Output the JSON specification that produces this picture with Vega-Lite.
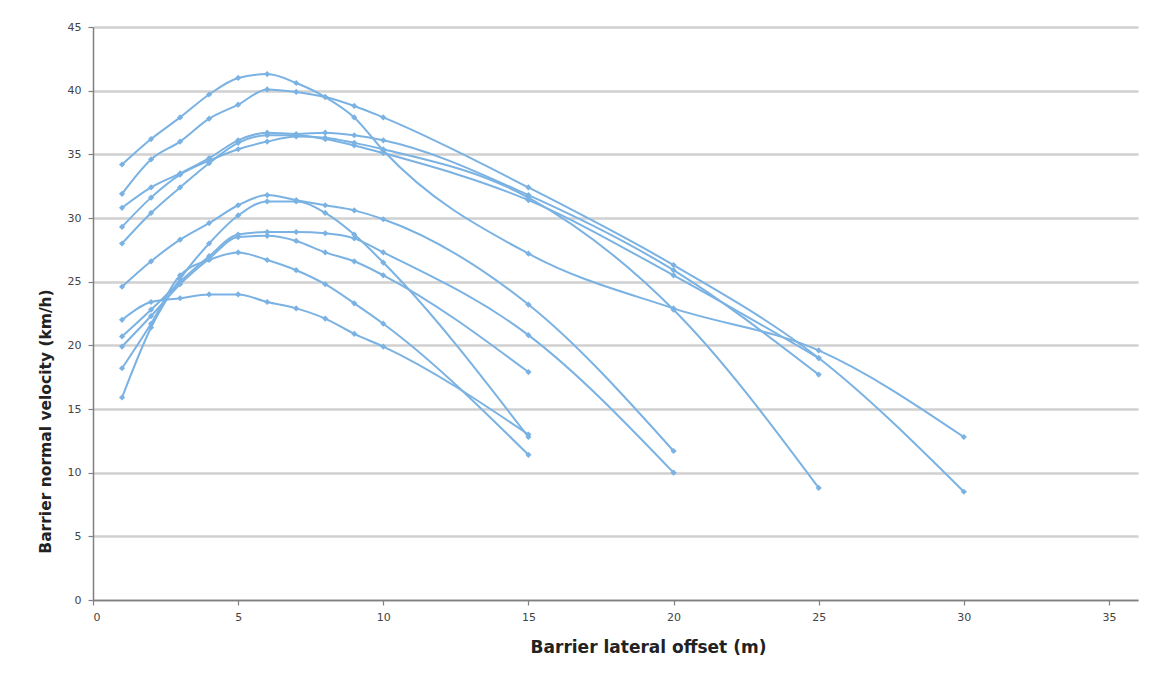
{
  "$schema": "https://vega.github.io/schema/vega-lite/v6.json",
  "width": 1045,
  "height": 573,
  "autosize": {"type": "none"},
  "padding": {"left": 93, "top": 27, "right": 14, "bottom": 73},
  "background": "white",
  "config": {
    "view": {"stroke": null},
    "font": "DejaVu Sans",
    "axis": {
      "domainColor": "#808080",
      "domainWidth": 1.5,
      "tickColor": "#808080",
      "tickWidth": 1.2,
      "tickSize": 5,
      "labelFont": "DejaVu Sans",
      "labelFontSize": 11,
      "labelColor": "#444444",
      "titleFont": "DejaVu Sans",
      "titleFontWeight": "bold",
      "titleColor": "#222222",
      "gridColor": "#d0d0d0",
      "gridWidth": 2.5
    }
  },
  "data": {
    "values": [
      {"s": "A", "x": 1, "y": 34.2}, {"s": "A", "x": 2, "y": 36.2}, {"s": "A", "x": 3, "y": 37.9}, {"s": "A", "x": 4, "y": 39.7}, {"s": "A", "x": 5, "y": 41.0}, {"s": "A", "x": 6, "y": 41.3}, {"s": "A", "x": 7, "y": 40.6}, {"s": "A", "x": 8, "y": 39.5}, {"s": "A", "x": 9, "y": 37.9}, {"s": "A", "x": 10, "y": 35.3}, {"s": "A", "x": 15, "y": 27.2}, {"s": "A", "x": 20, "y": 22.9}, {"s": "A", "x": 25, "y": 19.6}, {"s": "A", "x": 30, "y": 12.8},
      {"s": "B", "x": 1, "y": 31.9}, {"s": "B", "x": 2, "y": 34.6}, {"s": "B", "x": 3, "y": 36.0}, {"s": "B", "x": 4, "y": 37.8}, {"s": "B", "x": 5, "y": 38.9}, {"s": "B", "x": 6, "y": 40.1}, {"s": "B", "x": 7, "y": 39.9}, {"s": "B", "x": 8, "y": 39.5}, {"s": "B", "x": 9, "y": 38.8}, {"s": "B", "x": 10, "y": 37.9}, {"s": "B", "x": 15, "y": 32.4}, {"s": "B", "x": 20, "y": 26.3}, {"s": "B", "x": 25, "y": 19.0}, {"s": "B", "x": 30, "y": 8.5},
      {"s": "C", "x": 1, "y": 30.8}, {"s": "C", "x": 2, "y": 32.4}, {"s": "C", "x": 3, "y": 33.5}, {"s": "C", "x": 4, "y": 34.7}, {"s": "C", "x": 5, "y": 36.1}, {"s": "C", "x": 6, "y": 36.7}, {"s": "C", "x": 7, "y": 36.6}, {"s": "C", "x": 8, "y": 36.7}, {"s": "C", "x": 9, "y": 36.5}, {"s": "C", "x": 10, "y": 36.1}, {"s": "C", "x": 15, "y": 31.8}, {"s": "C", "x": 20, "y": 25.9}, {"s": "C", "x": 25, "y": 17.7},
      {"s": "D", "x": 1, "y": 29.3}, {"s": "D", "x": 2, "y": 31.6}, {"s": "D", "x": 3, "y": 33.4}, {"s": "D", "x": 4, "y": 34.5}, {"s": "D", "x": 5, "y": 35.4}, {"s": "D", "x": 6, "y": 36.0}, {"s": "D", "x": 7, "y": 36.4}, {"s": "D", "x": 8, "y": 36.3}, {"s": "D", "x": 9, "y": 35.9}, {"s": "D", "x": 10, "y": 35.4}, {"s": "D", "x": 15, "y": 31.6}, {"s": "D", "x": 20, "y": 22.8}, {"s": "D", "x": 25, "y": 8.8},
      {"s": "E", "x": 1, "y": 28.0}, {"s": "E", "x": 2, "y": 30.4}, {"s": "E", "x": 3, "y": 32.4}, {"s": "E", "x": 4, "y": 34.3}, {"s": "E", "x": 5, "y": 35.9}, {"s": "E", "x": 6, "y": 36.5}, {"s": "E", "x": 7, "y": 36.5}, {"s": "E", "x": 8, "y": 36.2}, {"s": "E", "x": 9, "y": 35.7}, {"s": "E", "x": 10, "y": 35.1}, {"s": "E", "x": 15, "y": 31.4}, {"s": "E", "x": 20, "y": 25.5}, {"s": "E", "x": 25, "y": 19.0},
      {"s": "L1", "x": 1, "y": 24.6}, {"s": "L1", "x": 2, "y": 26.6}, {"s": "L1", "x": 3, "y": 28.3}, {"s": "L1", "x": 4, "y": 29.6}, {"s": "L1", "x": 5, "y": 31.0}, {"s": "L1", "x": 6, "y": 31.8}, {"s": "L1", "x": 7, "y": 31.4}, {"s": "L1", "x": 8, "y": 31.0}, {"s": "L1", "x": 9, "y": 30.6}, {"s": "L1", "x": 10, "y": 29.9}, {"s": "L1", "x": 15, "y": 23.2}, {"s": "L1", "x": 20, "y": 11.7},
      {"s": "L2", "x": 1, "y": 20.7}, {"s": "L2", "x": 2, "y": 22.8}, {"s": "L2", "x": 3, "y": 25.0}, {"s": "L2", "x": 4, "y": 27.0}, {"s": "L2", "x": 5, "y": 28.7}, {"s": "L2", "x": 6, "y": 28.9}, {"s": "L2", "x": 7, "y": 28.9}, {"s": "L2", "x": 8, "y": 28.8}, {"s": "L2", "x": 9, "y": 28.4}, {"s": "L2", "x": 10, "y": 27.3}, {"s": "L2", "x": 15, "y": 20.8}, {"s": "L2", "x": 20, "y": 10.0},
      {"s": "L3", "x": 1, "y": 19.9}, {"s": "L3", "x": 2, "y": 22.3}, {"s": "L3", "x": 3, "y": 24.8}, {"s": "L3", "x": 4, "y": 26.8}, {"s": "L3", "x": 5, "y": 28.5}, {"s": "L3", "x": 6, "y": 28.6}, {"s": "L3", "x": 7, "y": 28.2}, {"s": "L3", "x": 8, "y": 27.3}, {"s": "L3", "x": 9, "y": 26.6}, {"s": "L3", "x": 10, "y": 25.5}, {"s": "L3", "x": 15, "y": 17.9},
      {"s": "L4", "x": 1, "y": 15.9}, {"s": "L4", "x": 2, "y": 21.4}, {"s": "L4", "x": 3, "y": 25.2}, {"s": "L4", "x": 4, "y": 28.0}, {"s": "L4", "x": 5, "y": 30.2}, {"s": "L4", "x": 6, "y": 31.3}, {"s": "L4", "x": 7, "y": 31.3}, {"s": "L4", "x": 8, "y": 30.4}, {"s": "L4", "x": 9, "y": 28.7}, {"s": "L4", "x": 10, "y": 26.5}, {"s": "L4", "x": 15, "y": 12.8},
      {"s": "L6", "x": 1, "y": 18.2}, {"s": "L6", "x": 2, "y": 21.7}, {"s": "L6", "x": 3, "y": 25.5}, {"s": "L6", "x": 4, "y": 26.7}, {"s": "L6", "x": 5, "y": 27.3}, {"s": "L6", "x": 6, "y": 26.7}, {"s": "L6", "x": 7, "y": 25.9}, {"s": "L6", "x": 8, "y": 24.8}, {"s": "L6", "x": 9, "y": 23.3}, {"s": "L6", "x": 10, "y": 21.7}, {"s": "L6", "x": 15, "y": 11.4},
      {"s": "L7", "x": 1, "y": 22.0}, {"s": "L7", "x": 2, "y": 23.4}, {"s": "L7", "x": 3, "y": 23.7}, {"s": "L7", "x": 4, "y": 24.0}, {"s": "L7", "x": 5, "y": 24.0}, {"s": "L7", "x": 6, "y": 23.4}, {"s": "L7", "x": 7, "y": 22.9}, {"s": "L7", "x": 8, "y": 22.1}, {"s": "L7", "x": 9, "y": 20.9}, {"s": "L7", "x": 10, "y": 19.9}, {"s": "L7", "x": 15, "y": 13.0}
    ]
  },
  "encoding": {
    "x": {
      "field": "x",
      "type": "quantitative",
      "scale": {"domain": [0, 36], "nice": false, "zero": false},
      "axis": {
        "values": [0, 5, 10, 15, 20, 25, 30, 35],
        "grid": false,
        "title": "Barrier lateral offset (m)",
        "titleFontSize": 17,
        "titleX": 555,
        "titlePadding": 17,
        "labelPadding": 6
      }
    },
    "y": {
      "field": "y",
      "type": "quantitative",
      "scale": {"domain": [0, 45], "nice": false},
      "axis": {
        "values": [0, 5, 10, 15, 20, 25, 30, 35, 40, 45],
        "grid": true,
        "title": "Barrier normal velocity (km/h)",
        "titleFontSize": 15.5,
        "titleAlign": "center",
        "titleY": 394,
        "titlePadding": 14,
        "labelPadding": 7
      }
    },
    "detail": {"field": "s", "type": "nominal"}
  },
  "layer": [
    {"mark": {"type": "line", "interpolate": "monotone", "color": "#7ab2e3", "strokeWidth": 2}},
    {"mark": {"type": "point", "shape": "diamond", "filled": true, "size": 38, "color": "#7ab2e3", "opacity": 1}}
  ]
}
